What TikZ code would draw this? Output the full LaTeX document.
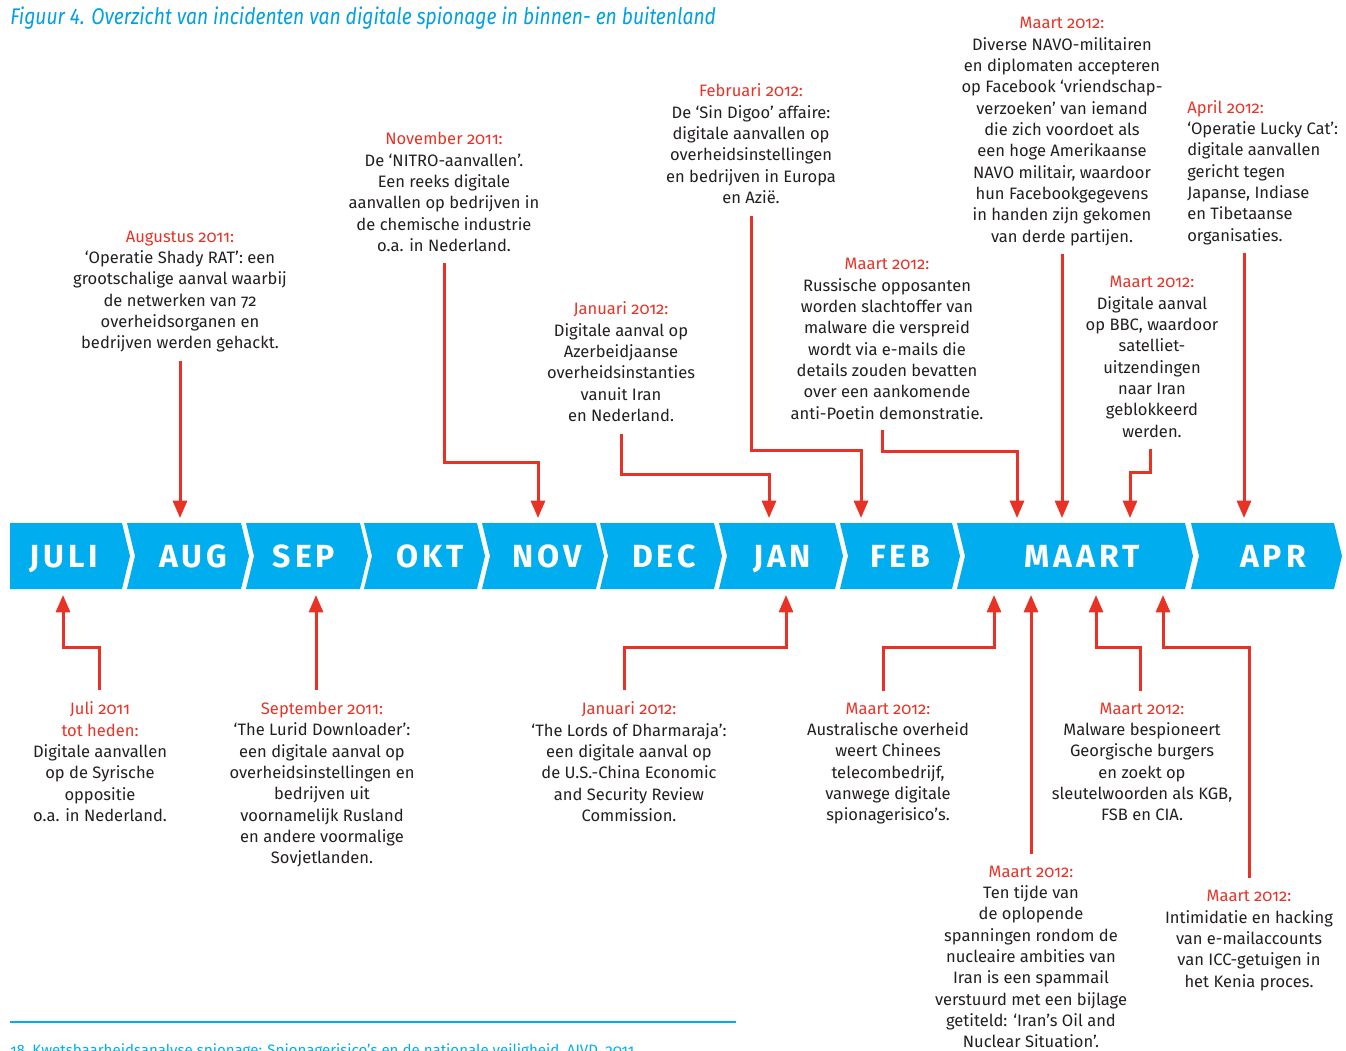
\documentclass[tikz,border=0pt]{standalone}
\usepackage{fontspec}
\setmainfont{Fira Sans}[Numbers=OldStyle]
\newfontfamily\titlefont{Fira Sans}[FakeStretch=0.85]
\newfontfamily\monthfont{Fira Sans}[LetterSpace=12]
\usetikzlibrary{arrows.meta, positioning}
\usepackage{xcolor}
\definecolor{bandcolor}{RGB}{0,174,239}
\definecolor{titlecolor}{RGB}{0,160,227}
\definecolor{evred}{RGB}{232,50,38}
\definecolor{evtext}{RGB}{35,31,32}

\newcommand{\when}[1]{\textcolor{evred}{#1}}

\begin{document}
\begin{tikzpicture}[x=0.75pt, y=-0.75pt,
    event/.style={align=center, inner sep=0pt, text=evtext, font=\fontsize{12.4}{16}\selectfont,
      execute at begin node=\strut, execute at end node=\strut},
    month/.style={text=white, inner sep=0pt, anchor=base, font=\monthfont\bfseries\fontsize{24}{24}\selectfont},
    evarrow/.style={draw=evred, line width=2.25pt, line join=miter, -{Triangle[length=13pt, width=10.5pt]}}]
    \useasboundingbox (0,0) rectangle (1346,1050);
    \clip (0,0) rectangle (1346,1050);

    \node[anchor=west, inner sep=0pt, text=titlecolor, font=\titlefont\itshape\fontsize{17}{20}\selectfont] (title) at (10,18)
      {Figuur 4. Overzicht van incidenten van digitale spionage in binnen- en buitenland};

    % the months
    \fill[bandcolor] (10,523) -- (122,523) -- (130,556) -- (122,589) -- (10,589) -- cycle;
    \node[month] (m-juli) at (64,567) {JULI};
    \foreach \name/\lbl/\a/\b/\c in {aug/AUG/127/241/193, sep/SEP/246/360/304, okt/OKT/364/477/430,
        nov/NOV/482/596/547, dec/DEC/600/714/664, jan/JAN/719/835/782, feb/FEB/840/952/900,
        maart/MAART/957/1185/1082, apr/APR/1191/1334/1273}
    {
      \fill[bandcolor] (\a,523) -- (\b,523) -- (\b+8,556) -- (\b,589) -- (\a,589) -- (\a+8,556) -- cycle;
      \node[month] (m-\name) at (\c,567) {\lbl};
    }

    \coordinate (t-aug) at (180,518);
    \coordinate (t-nov) at (538,518);
    \coordinate (t-jan) at (769,518);
    \coordinate (t-feb) at (861,518);
    \coordinate (t-mrt1) at (1017,518);
    \coordinate (t-mrt2) at (1062,518);
    \coordinate (t-mrt3) at (1130,518);
    \coordinate (t-apr) at (1244,518);

    \coordinate (b-juli) at (63,595);
    \coordinate (b-sep) at (316,595);
    \coordinate (b-jan) at (786,595);
    \coordinate (b-mrt1) at (994,595);
    \coordinate (b-mrt2) at (1031,595);
    \coordinate (b-mrt3) at (1096,595);
    \coordinate (b-mrt4) at (1163,595);

    % above the band
    \node[event] (shadyrat) at (180,293) {\when{Augustus 2011:}\\‘Operatie Shady RAT’: een\\grootschalige aanval waarbij\\de netwerken van 72\\overheidsorganen en\\bedrijven werden gehackt.};
    \node[event] (nitro) at (444,195) {\when{November 2011:}\\De ‘NITRO-aanvallen’.\\Een reeks digitale\\aanvallen op bedrijven in\\de chemische industrie\\o.a. in Nederland.};
    \node[event] (azer) at (621,365) {\when{Januari 2012:}\\Digitale aanval op\\Azerbeidjaanse\\overheidsinstanties\\vanuit Iran\\en Nederland.};
    \node[event] (sindigoo) at (751,147) {\when{Februari 2012:}\\De ‘Sin Digoo’ affaire:\\digitale aanvallen op\\overheidsinstellingen\\en bedrijven in Europa\\en Azië.};
    \node[event] (poetin) at (887,342) {\when{Maart 2012:}\\Russische opposanten\\worden slachtoffer van\\malware die verspreid\\wordt via e-mails die\\details zouden bevatten\\over een aankomende\\anti-Poetin demonstratie.};
    \node[event] (navo) at (1062,133) {\when{Maart 2012:}\\Diverse NAVO-militairen\\en diplomaten accepteren\\op Facebook ‘vriendschap-\\verzoeken’ van iemand\\die zich voordoet als\\een hoge Amerikaanse\\NAVO militair, waardoor\\hun Facebookgegevens\\in handen zijn gekomen\\van derde partijen.};
    \node[event] (bbc) at (1152,360) {\when{Maart 2012:}\\Digitale aanval\\op BBC, waardoor\\satelliet-\\uitzendingen\\naar Iran\\geblokkeerd\\werden.};
    \node[event, align=left, anchor=west] (luckycat) at (1187,174) {\when{April 2012:}\\‘Operatie Lucky Cat’:\\digitale aanvallen\\gericht tegen\\Japanse, Indiase\\en Tibetaanse\\organisaties.};

    % below the band
    \node[event] (syrie) at (100,765) {\when{Juli 2011}\\\when{tot heden:}\\Digitale aanvallen\\op de Syrische\\oppositie\\o.a. in Nederland.};
    \node[event] (lurid) at (322,786) {\when{September 2011:}\\‘The Lurid Downloader’:\\een digitale aanval op\\overheidsinstellingen en\\bedrijven uit\\voornamelijk Rusland\\en andere voormalige\\Sovjetlanden.};
    \node[event] (dharma) at (629,765) {\when{Januari 2012:}\\‘The Lords of Dharmaraja’:\\een digitale aanval op\\de U.S.-China Economic\\and Security Review\\Commission.};
    \node[event] (telecom) at (888,765) {\when{Maart 2012:}\\Australische overheid\\weert Chinees\\telecombedrijf,\\vanwege digitale\\spionagerisico’s.};
    \node[event] (georgie) at (1142,765) {\when{Maart 2012:}\\Malware bespioneert\\Georgische burgers\\en zoekt op\\sleutelwoorden als KGB,\\FSB en CIA.};
    \node[event] (iranmail) at (1031,960) {\when{Maart 2012:}\\Ten tijde van\\de oplopende\\spanningen rondom de\\nucleaire ambities van\\Iran is een spammail\\verstuurd met een bijlage\\getiteld: ‘Iran’s Oil and\\Nuclear Situation’.};
    \node[event] (icc) at (1249,942) {\when{Maart 2012:}\\Intimidatie en hacking\\van e-mailaccounts\\van ICC-getuigen in\\het Kenia proces.};

    \draw[evarrow, shorten <=4pt] (t-aug |- shadyrat.south) -- (t-aug);
    \draw[evarrow, shorten <=4pt] (nitro.south) |- ([yshift=42pt]t-nov) -- (t-nov);
    \draw[evarrow, shorten <=4pt] (azer.south) |- ([yshift=33pt]t-jan) -- (t-jan);
    \draw[evarrow, shorten <=4pt] (sindigoo.south) |- ([yshift=51pt]t-feb) -- (t-feb);
    \draw[evarrow, shorten <=3pt] ([xshift=-3.75pt]poetin.south) |- ([yshift=50pt]t-mrt1) -- (t-mrt1);
    \draw[evarrow, shorten <=4pt] (t-mrt2 |- navo.south) -- (t-mrt2);
    \draw[evarrow, shorten <=4pt] ([xshift=-1.5pt]bbc.south) |- ([yshift=34pt]t-mrt3) -- (t-mrt3);
    \draw[evarrow, shorten <=4pt] (t-apr |- luckycat.south) -- (t-apr);

    \draw[evarrow, shorten <=9pt] ([xshift=-0.75pt]syrie.north) |- ([yshift=-39pt]b-juli) -- (b-juli);
    \draw[evarrow, shorten <=9pt] (b-sep |- lurid.north) -- (b-sep);
    \draw[evarrow, shorten <=9pt] ([xshift=-3.75pt]dharma.north) |- ([yshift=-39pt]b-jan) -- (b-jan);
    \draw[evarrow, shorten <=9pt] ([xshift=-3.75pt]telecom.north) |- ([yshift=-39pt]b-mrt1) -- (b-mrt1);
    \draw[evarrow, shorten <=9pt] (b-mrt2 |- iranmail.north) -- (b-mrt2);
    \draw[evarrow, shorten <=9pt] ([xshift=-1.5pt]georgie.north) |- ([yshift=-39pt]b-mrt3) -- (b-mrt3);
    \draw[evarrow, shorten <=9pt] (icc.north) |- ([yshift=-39pt]b-mrt4) -- (b-mrt4);

    % footnote
    \draw[bandcolor, line width=1.5pt] (10,1022) -- (736,1022);
    \node[anchor=base west, inner sep=0pt, text=bandcolor, font=\fontsize{11.3}{13}\selectfont] (source) at (10,1055)
      {18\enspace Kwetsbaarheidsanalyse spionage: Spionagerisico’s en de nationale veiligheid, AIVD, 2011};
\end{tikzpicture}
\end{document}
